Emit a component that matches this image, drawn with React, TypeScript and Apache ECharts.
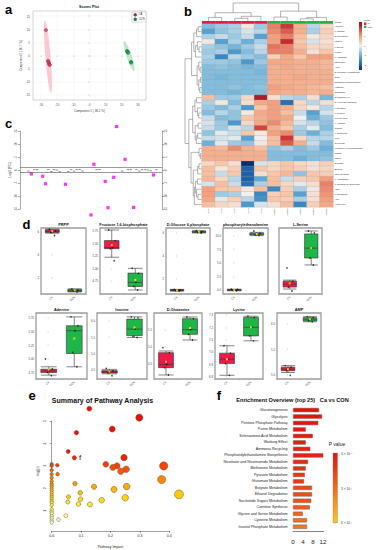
import React, { useEffect, useRef } from 'react';
import * as echarts from 'echarts';

const FONT = '"Liberation Sans", Arial, Helvetica, sans-serif';

// ---------------- a : scores plot ----------------
const scoreXTicks = [-30, -20, -10, 0, 10, 20, 30];
const scoreYTicks = [-15, -10, -5, 0, 5, 10, 15];
const scoresCA = [[-27.0, 9.7], [-25.7, -2.1], [-25.3, -2.6], [-25.0, -3.3], [-24.6, -3.6]];
const scoresCON = [[23.2, 1.7], [23.6, 1.4], [23.9, 1.0], [25.7, -2.5], [25.9, -2.7]];
const ellipseCA = [[-27.6, 13.5, -23.9, -14.3]];
const ellipseCON = [[21.4, 5.5, 27.6, -5.9]];

// ---------------- b : heatmap ----------------
const samples = ['CA1', 'CA2', 'CA3', 'CA4', 'CA5', 'CON1', 'CON2', 'CON3', 'CON4', 'CON5'];
const sampleGroup = ['CA', 'CA', 'CA', 'CA', 'CA', 'CON', 'CON', 'CON', 'CON', 'CON'];
const metabolites = [
  'Adenine', 'L-Lactate', 'D-Glutamine', 'Inosine', 'L-Serine', 'Lysine', 'L-Aspartate', 'Isoleucine',
  'AMP', 'D-Glucose 6-phosphate', 'CMP', 'phosphorylethanolamine', 'Histidine', 'Glutamine',
  'Glutathione ox', 'N-Acetylglucosamine', 'L-Tyrosine', 'L-Leucine', 'Pyruvic acid', 'L-Arginine',
  'Uridine', 'L-Threonine', 'UTP', 'Glycerate', 'Fructose 1,6-bisphosphate', 'Malate', 'PRPP',
  'Glucose', 'Betaine', 'UDP-Glucose', 'L-Asparagine', '6-Phospho-D-gluconate', 'ADP', 'L-Glutamate',
  'ATP', 'Acetyl-CoA',
];
const zScores = [
  [-0.8, -0.6, -0.5, 0.1, -0.6, 1.3, 1.9, 0.8, -0.4, 0.3],
  [-1.2, -0.7, -0.5, -0.2, -0.4, 1.2, 1.6, 0.8, -0.5, 0.4],
  [-0.5, -0.3, -0.6, -0.3, -1.2, 1.0, 1.3, 0.6, 0.1, 0.3],
  [0.1, -1.2, -0.5, -1.0, -0.5, 1.0, 2.0, 0.5, -0.2, 0.2],
  [-0.5, -0.7, -0.9, -0.6, -0.3, 1.4, 1.3, 0.6, 0.3, 0.3],
  [-0.6, -0.5, -1.3, -0.8, -0.4, 1.3, 1.3, 0.8, 0.2, 0.5],
  [-0.5, -1.5, -0.4, -0.6, -0.8, 0.4, 0.9, 0.5, 1.0, 1.0],
  [-0.6, -0.6, -0.7, -1.3, -0.6, 0.9, 0.9, 0.8, 0.8, 0.7],
  [-0.8, -0.7, -0.8, -0.9, -0.8, 0.8, 0.9, 0.8, 0.8, 0.7],
  [-0.8, -0.8, -0.8, -0.8, -0.9, 0.8, 0.8, 0.8, 0.8, 0.8],
  [-0.8, -0.9, -0.8, -0.8, -0.8, 0.8, 0.8, 0.9, 0.8, 0.8],
  [-0.8, -0.8, -0.8, -0.8, -0.8, 0.8, 0.8, 0.8, 0.8, 0.8],
  [-0.8, -0.8, -0.7, -0.8, -0.7, 1.0, 0.9, 0.8, 0.7, 0.6],
  [-0.8, -0.8, -0.9, -0.8, -0.8, 0.9, 0.8, 0.8, 0.7, 0.8],
  [0.6, -0.6, -0.6, 0.3, 2.2, 0.2, -0.4, -0.5, 0.2, -0.9],
  [-0.5, 0.1, -0.8, 0.2, 0.9, 1.0, -1.8, 0.3, -0.4, 0.2],
  [-0.6, -0.8, -0.5, -1.3, 0.5, 1.0, 0.8, 0.3, 0.1, -0.4],
  [-0.8, -0.4, -0.7, 0.1, 0.9, 1.0, 0.6, -0.3, -1.2, -0.2],
  [-0.3, -0.8, -0.7, 0.5, 0.8, 1.0, 0.9, 0.0, -1.0, -0.6],
  [-0.2, -0.6, -1.3, 0.3, 0.9, 1.2, 0.7, -0.2, -0.4, -0.7],
  [-0.3, -0.6, -0.2, -0.4, 1.8, 0.8, 0.5, -0.5, -0.1, -0.8],
  [-0.7, -0.1, -0.3, 0.5, 0.1, 1.0, 1.2, -0.6, -1.0, -0.5],
  [-0.3, -0.2, -0.1, -1.2, 0.0, 0.6, 1.9, 0.3, -0.4, -0.4],
  [-1.0, -0.1, -0.6, -0.7, 0.1, 0.6, 1.6, 0.8, -0.3, -0.8],
  [0.8, 0.7, 1.2, 0.8, 0.6, -0.7, -0.5, -0.8, -0.6, -1.0],
  [0.8, 0.8, 0.8, 0.8, 0.8, -0.8, -0.8, -0.8, -0.8, -0.8],
  [0.8, 0.8, 0.8, 0.8, 0.8, -0.8, -0.8, -1.0, -0.8, -0.7],
  [0.3, 0.5, 0.2, -2.8, -0.2, 0.3, 0.5, 0.3, 0.2, 0.4],
  [0.6, 0.1, 0.4, -2.0, 0.5, 0.3, 0.5, 0.4, 0.2, 0.3],
  [0.6, -0.3, 0.5, -2.0, 0.2, 0.5, 0.7, -0.7, 0.5, 0.4],
  [0.7, 0.3, -0.4, -2.0, -1.1, 0.6, -0.3, 0.4, 0.5, 1.0],
  [-0.2, 0.6, -0.3, -1.8, -0.5, 0.6, 0.3, -0.1, 0.2, 1.3],
  [1.0, 0.5, 0.5, 0.1, 0.6, -1.5, 0.4, -0.5, 0.1, 1.2],
  [1.0, -0.6, -0.5, 0.0, -1.5, 0.4, 0.5, -1.2, 0.2, 1.1],
  [0.9, -0.1, 0.4, -0.4, -1.4, 0.5, 0.4, -0.5, 0.2, 1.0],
  [0.6, 0.3, 0.2, -1.3, -0.2, 0.2, 0.6, -1.5, 0.4, 0.9],
];
// trees: leaf = index, node = [left, right, height]
const colTree: any = [[[0, 1, 2.0], [[2, 3, 1.5], 4, 2.6], 4.6], [[5, 6, 2.2], [[7, 8, 1.2], 9, 2.0], 5.5], 10];
const rowA: any = [[[[0, 1, 1.2], 2, 1.8], [[3, [4, 5, 0.9], 1.5], 6, 2.2], 2.8], [[7, [8, 9, 0.5], 1.0], [[10, 11, 0.4], [12, 13, 0.6], 1.0], 1.6], 3.6];
const rowB: any = [[[14, 15, 1.8], [16, [17, 18, 1.0], 1.5], 2.4], [[19, 20, 1.2], [[21, 22, 1.4], 23, 1.9], 2.3], 3.2];
const rowC: any = [24, [25, 26, 0.4], 0.9];
const rowD: any = [[[27, 28, 0.9], 29, 1.4], [[[30, 31, 1.5], [32, [33, 34, 1.3], 1.8], 2.2], 35, 2.6], 3.0];
const rowTree: any = [rowA, [rowB, [rowC, rowD, 3.8], 4.6], 6];
const heatLegendTicks = [2, 1, 0, -1, -2];

// ---------------- c : fold change ----------------
const sigIndex = [4, 8, 9, 16, 25, 26, 30, 31, 33, 34, 37, 40, 47];
const sigLog2FC = [-1.5, -2.4, -5.3, -5.5, -17.3, 2.2, -4.4, -14.5, -2.8, 16.7, 4.1, -14.4, -1.9];
const nsIndex = [3, 5, 6, 10, 11, 12, 13, 14, 17, 18, 19, 20, 21, 22, 27, 28, 36, 38, 39, 41, 42, 43, 44, 45, 46, 48];
const nsLog2FC = [-0.4, 0.1, 0.1, 0.2, -0.6, 0.1, 0.0, -0.7, -0.5, 0.1, -0.4, 0.1, 0.2, -0.4, 0.1, 0.2, -0.4, 0.1, 0.1, 0.1, -0.4, 0.1, 0.1, 0.0, -0.3, 0.1];
const fcThreshold = [1, -1];

// ---------------- d : box plots ----------------
const boxNames = ['PRPP', 'Fructose 1,6-bisphosphate', 'D-Glucose 6-phosphate', 'phosphorylethanolamine', 'L-Serine', 'Adenine', 'Inosine', 'D-Glutamine', 'Lysine', 'AMP'];
const boxCA = [
  [5.9, 5.95, 6.05, 6.2, 6.25], [5.22, 5.39, 5.41, 5.55, 5.76], [0.95, 0.98, 1.03, 1.08, 1.1], [-0.15, -0.08, 0, 0.08, 0.15], [4.15, 4.21, 4.3, 4.39, 4.42],
  [4.71, 4.757, 4.786, 4.816, 4.86], [4.36, 4.39, 4.43, 4.46, 4.5], [4.15, 4.37, 4.47, 4.82, 4.87], [6.81, 6.905, 6.94, 6.99, 7.05], [5.045, 5.08, 5.11, 5.15, 5.18],
];
const boxCON = [
  [0.78, 0.82, 0.9, 1.0, 1.05], [4.57, 4.64, 4.72, 4.905, 5.0], [5.98, 6.02, 6.08, 6.13, 6.17], [10.0, 10.15, 10.3, 10.45, 10.6], [4.88, 5.09, 5.39, 5.82, 5.91],
  [4.86, 5.1, 5.51, 5.6, 5.76], [5.49, 5.55, 5.75, 6.06, 6.13], [5.2, 5.37, 5.51, 5.84, 5.89], [7.09, 7.13, 7.2, 7.28, 7.29], [6.03, 6.045, 6.08, 6.11, 6.13],
];
const meanCA = [6.08, 5.46, 1.03, 0, 4.32, 4.81, 4.43, 4.55, 6.94, 5.11];
const meanCON = [0.92, 4.77, 6.08, 10.3, 5.39, 5.37, 5.8, 5.56, 7.2, 6.08];
const pointsCA = [
  [6.25, 6.1, 6.05, 5.95, 5.7], [5.76, 5.55, 5.41, 5.39, 5.15], [1.1, 1.06, 1.03, 0.99, 0.95], [0.15, 0.08, 0, -0.08, -0.15], [4.79, 4.39, 4.3, 4.21, 4.09],
  [5.0, 4.82, 4.79, 4.76, 4.7], [4.53, 4.46, 4.43, 4.39, 4.3], [4.97, 4.82, 4.47, 4.37, 4.15], [7.05, 6.99, 6.94, 6.905, 6.81], [5.18, 5.15, 5.11, 5.08, 4.99],
];
const pointsCON = [
  [1.05, 0.95, 0.9, 0.85, 0.78], [5.0, 4.9, 4.72, 4.64, 4.57], [6.17, 6.12, 6.08, 6.03, 5.98], [10.85, 10.45, 10.3, 10.15, 10.0], [5.91, 5.85, 5.39, 5.09, 4.88],
  [5.76, 5.6, 5.51, 5.12, 4.86], [6.13, 6.1, 5.75, 5.52, 5.49], [5.89, 5.84, 5.51, 5.37, 5.2], [7.29, 7.28, 7.2, 7.13, 7.09], [6.13, 6.11, 6.08, 6.05, 6.03],
];
const boxTicks = [
  [2, 4, 6], [4.75, 5.0, 5.25, 5.5, 5.75], [2, 4, 6], [0, 2.5, 5, 7.5, 10], [],
  [4.75, 5.0, 5.25, 5.5, 5.75], [4.5, 5.0, 5.5, 6.0], [4.5, 5.0, 5.5], [6.8, 6.9, 7.0, 7.1, 7.2, 7.3], [5.0, 5.5, 6.0],
];
const boxTickDecimals = [0, 2, 0, 1, 1, 2, 1, 1, 1, 1];
const boxAxisRange = [
  [0.6, 6.35], [4.49, 5.8], [0.7, 6.41], [-0.74, 11.4], [4.0, 6.0],
  [4.64, 5.83], [4.2, 6.25], [4.03, 6.01], [6.78, 7.316], [4.92, 6.2],
];
const boxGroups = ['CA', 'CON'];

// ---------------- e : pathway summary ----------------
const pathwayImpact = [0.128, 0.298, 0.206, 0.084, 0.056, 0.077, 0.246, 0.184, 0.222, 0.208, 0.253, 0.235, 0.381, 0.374, 0.079, 0.144, 0.255, 0.212, 0.433, 0.097, 0.057, 0.098, 0.17, 0.25, 0.055, 0.091, 0.13, 0.048, 0.023, 0.019, 0.02,
  0, 0, 0, 0, 0, 0, 0, 0, 0, 0, 0, 0, 0, 0, 0, 0, 0, 0, 0, 0, 0, 0, 0, 0, 0];
const pathwayLogP = [5.55, 5.15, 4.64, 4.48, 3.64, 3.36, 3.37, 3.07, 3.0, 2.93, 2.85, 2.76, 3.0, 2.39, 2.21, 2.07, 2.08, 1.95, 1.73, 1.8, 1.62, 1.52, 1.47, 1.58, 1.39, 1.3, 1.28, 0.78, 0.61, 3.03, 2.63,
  3.07, 3.0, 2.81, 2.63, 2.47, 2.32, 2.21, 2.15, 2.07, 1.98, 1.89, 1.8, 1.7, 1.62, 1.53, 1.43, 1.36, 1.25, 1.06, 0.96, 0.88, 0.76, 0.67, 0.56, 0.48];
const pathwayYTicks = [1, 2, 3, 4, 5];

// ---------------- f : enrichment overview ----------------
const enrichNames = ['Gluconeogenesis', 'Glycolysis', 'Pentose Phosphate Pathway', 'Purine Metabolism', 'Selenoamino Acid Metabolism', 'Warburg Effect',
  'Ammonia Recycling', 'Phosphatidylethanolamine Biosynthesis', 'Nicotinate and Nicotinamide Metabolism', 'Methionine Metabolism', 'Pyruvate Metabolism',
  'Glutamate Metabolism', 'Butyrate Metabolism', 'Ethanol Degradation', 'Nucleotide Sugars Metabolism', 'Carnitine Synthesis', 'Glycine and Serine Metabolism',
  'Cysteine Metabolism', 'Inositol Phosphate Metabolism'];
const enrichRatio = [10.4, 11.6, 10.1, 5.1, 7.9, 5.1, 6.9, 12.1, 6.0, 5.1, 4.7, 4.4, 7.6, 7.6, 7.3, 6.7, 3.9, 5.6, 5.6];
const enrichP = [0.0004, 0.0004, 0.0005, 0.0006, 0.0007, 0.0008, 0.0009, 0.0009, 0.0012, 0.0014, 0.0016, 0.0017, 0.0022, 0.0023, 0.0025, 0.0027, 0.003, 0.0033, 0.0036];
const enrichTicks = [0, 2, 4, 6, 8, 10, 12];
const enrichLabels = [0, 4, 8, 12];
const pLegendLabels = ['4 × 10⁻⁴', '3 × 10⁻³', '6 × 10⁻³'];

// ---------------- layout / style constants ----------------
const RED = '#EC1A4B';
const GREEN = '#1FB548';
const groupColors: any = { CA: RED, CON: GREEN };
const heatColors = ['#0B2F6B', '#1E5FA5', '#3A88C2', '#6AB0D8', '#A9D0E6', '#F2F0EE', '#F9C6A8', '#F3A07E', '#E06A55', '#C42A2E', '#8B0A22'];
const boxRects = [[41, 228, 45, 66], [100, 228, 47, 66], [166, 228, 44, 66], [223, 228, 45, 66], [279, 228, 43, 66],
  [36, 313, 51, 66], [97, 313, 50, 66], [154, 313, 48, 66], [215, 313, 48, 66], [277, 313, 44, 66]];
const jitter = [-0.13, 0.14, 0.03, -0.06, 0.1];

function flattenTree(tree: any, links: number[][]): { pos: number; h: number } {
  if (typeof tree === 'number') return { pos: tree, h: 0 };
  const a = flattenTree(tree[0], links);
  const b = flattenTree(tree[1], links);
  links.push([a.pos, a.h, b.pos, b.h, tree[2]]);
  return { pos: (a.pos + b.pos) / 2, h: tree[2] };
}

function ellipseRender(fill: string, half: number) {
  return (_p: any, api: any) => {
    const p1 = api.coord([api.value(0), api.value(1)]);
    const p2 = api.coord([api.value(2), api.value(3)]);
    const cx = (p1[0] + p2[0]) / 2, cy = (p1[1] + p2[1]) / 2;
    const dx = (p2[0] - p1[0]) / 2, dy = (p2[1] - p1[1]) / 2;
    const len = Math.hypot(dx, dy) || 1;
    const nx = (-dy / len) * half, ny = (dx / len) * half;
    const pts: number[][] = [];
    for (let i = 0; i < 60; i++) {
      const t = (i / 60) * Math.PI * 2;
      pts.push([cx + dx * Math.cos(t) + nx * Math.sin(t), cy + dy * Math.cos(t) + ny * Math.sin(t)]);
    }
    return { type: 'polygon', shape: { points: pts }, style: { fill, stroke: 'none' } };
  };
}

function dendroRender(vertical: boolean) {
  return (_p: any, api: any) => {
    const x1 = api.value(0), h1 = api.value(1), x2 = api.value(2), h2 = api.value(3), h = api.value(4);
    const pts = vertical
      ? [api.coord([x1, h1]), api.coord([x1, h]), api.coord([x2, h]), api.coord([x2, h2])]
      : [api.coord([h1, x1]), api.coord([h, x1]), api.coord([h, x2]), api.coord([h2, x2])];
    return { type: 'polyline', shape: { points: pts }, style: { stroke: '#666', lineWidth: 0.5, fill: 'none' } };
  };
}

function buildOption() {
  const grid: any[] = [], xAxis: any[] = [], yAxis: any[] = [], series: any[] = [], graphic: any[] = [], visualMap: any[] = [];
  const gi = (g: any) => { grid.push(g); return grid.length - 1; };
  const xi = (a: any) => { xAxis.push(a); return xAxis.length - 1; };
  const yi = (a: any) => { yAxis.push(a); return yAxis.length - 1; };
  const si = (s: any) => { series.push(s); return series.length - 1; };
  const text = (x: number, y: number, t: string, size: number, extra: any = {}) => {
    graphic.push({
      type: 'text', x, y, silent: true,
      style: { text: t, fontSize: size, fontFamily: FONT, fill: '#111', textAlign: 'center', align: 'center', textVerticalAlign: 'middle', verticalAlign: 'middle', ...extra },
    });
  };
  const hidden = { show: false };

  // ===== a =====
  const gA = gi({ left: 33, top: 11, width: 113, height: 89, show: true, borderColor: '#b8b8b8', borderWidth: 0.6, backgroundColor: '#fff' });
  const xA = xi({
    type: 'value', gridIndex: gA, min: -35, max: 35, axisLine: { show: false },
    axisTick: { customValues: scoreXTicks, length: 1.5, lineStyle: { color: '#999', width: 0.4 } },
    axisLabel: { customValues: scoreXTicks, fontSize: 3, color: '#555', margin: 3 },
    splitLine: { show: true, lineStyle: { color: '#eeeeee', width: 0.4 } },
    name: 'Component 1 ( 48.2 %)', nameLocation: 'middle', nameGap: 9, nameTextStyle: { fontSize: 3, color: '#444' },
  });
  const yA = yi({
    type: 'value', gridIndex: gA, min: -17, max: 17, axisLine: { show: false },
    axisTick: { customValues: scoreYTicks, length: 1.5, lineStyle: { color: '#999', width: 0.4 } },
    axisLabel: { customValues: scoreYTicks, fontSize: 3, color: '#555', margin: 3 },
    splitLine: { show: true, lineStyle: { color: '#eeeeee', width: 0.4 } },
    name: 'Component 2 ( 10.7 %)', nameLocation: 'middle', nameGap: 10, nameTextStyle: { fontSize: 3, color: '#444' },
  });
  si({ type: 'custom', xAxisIndex: xA, yAxisIndex: yA, data: ellipseCA, renderItem: ellipseRender('rgba(250,130,160,0.45)', 2.6), clip: false, silent: true, z: 1, encode: { x: [0, 2], y: [1, 3] } });
  si({ type: 'custom', xAxisIndex: xA, yAxisIndex: yA, data: ellipseCON, renderItem: ellipseRender('rgba(110,205,140,0.45)', 2.6), clip: false, silent: true, z: 1, encode: { x: [0, 2], y: [1, 3] } });
  si({ type: 'scatter', name: 'CA', xAxisIndex: xA, yAxisIndex: yA, data: scoresCA, symbolSize: 3.4, itemStyle: { color: '#D63863', borderColor: '#8a1030', borderWidth: 0.4 }, z: 3 });
  si({ type: 'scatter', name: 'CON', xAxisIndex: xA, yAxisIndex: yA, data: scoresCON, symbolSize: 3.4, itemStyle: { color: '#1F9A55', borderColor: '#0c5a2c', borderWidth: 0.4 }, z: 3 });
  text(89, 6.5, 'Scores Plot', 3.6, { fontWeight: 'bold' });

  // ===== b =====
  const gH = gi({ left: 202, top: 24, width: 131, height: 183 });
  const xH = xi({ type: 'category', gridIndex: gH, data: samples, axisLine: { show: false }, axisTick: { show: false }, axisLabel: { interval: 0, rotate: 90, fontSize: 2.4, color: '#333', margin: 1.5 } });
  const yH = yi({ type: 'category', gridIndex: gH, data: metabolites, inverse: true, position: 'right', axisLine: { show: false }, axisTick: { show: false }, axisLabel: { interval: 0, fontSize: 2.4, color: '#222', margin: 1.5 } });
  const heatData: number[][] = [];
  zScores.forEach((row, r) => row.forEach((v, c) => heatData.push([c, r, v])));
  const heatIdx = si({ type: 'heatmap', xAxisIndex: xH, yAxisIndex: yH, data: heatData, itemStyle: { borderColor: '#a0a0a0', borderWidth: 0.25 } });

  const gAnn = gi({ left: 202, top: 21, width: 131, height: 2.8 });
  const xAnn = xi({ type: 'category', gridIndex: gAnn, data: samples, ...hidden });
  const yAnn = yi({ type: 'value', gridIndex: gAnn, min: 0, max: 1, ...hidden });
  si({ type: 'bar', xAxisIndex: xAnn, yAxisIndex: yAnn, barWidth: '100%', data: sampleGroup.map((g) => ({ value: 1, itemStyle: { color: groupColors[g] } })) });

  const colLinks: number[][] = [];
  flattenTree(colTree, colLinks);
  const gCD = gi({ left: 202, top: 3, width: 131, height: 18 });
  const xCD = xi({ type: 'value', gridIndex: gCD, min: -0.5, max: samples.length - 0.5, ...hidden });
  const yCD = yi({ type: 'value', gridIndex: gCD, min: 0, max: colTree[2], ...hidden });
  si({ type: 'custom', xAxisIndex: xCD, yAxisIndex: yCD, data: colLinks, renderItem: dendroRender(true), clip: false, silent: true, encode: { x: [0, 2], y: [1, 3, 4] } });

  const rowLinks: number[][] = [];
  flattenTree(rowTree, rowLinks);
  const gRD = gi({ left: 185, top: 24, width: 16.5, height: 183 });
  const xRD = xi({ type: 'value', gridIndex: gRD, min: 0, max: rowTree[2], inverse: true, ...hidden });
  const yRD = yi({ type: 'value', gridIndex: gRD, min: -0.5, max: metabolites.length - 0.5, inverse: true, ...hidden });
  si({ type: 'custom', xAxisIndex: xRD, yAxisIndex: yRD, data: rowLinks, renderItem: dendroRender(false), clip: false, silent: true, encode: { x: [1, 3, 4], y: [0, 2] } });

  visualMap.push({ type: 'continuous', show: false, seriesIndex: heatIdx, dimension: 2, min: -2.5, max: 2.5, inRange: { color: heatColors } });
  // heat legend
  graphic.push({
    type: 'rect', x: 359, y: 22, shape: { width: 3, height: 48 }, silent: true,
    style: { fill: new echarts.graphic.LinearGradient(0, 0, 0, 1, heatColors.slice().reverse().map((c, i, arr) => ({ offset: i / (arr.length - 1), color: c }))) },
  });
  heatLegendTicks.forEach((v) => text(364, 22 + ((2.5 - v) / 5) * 48, String(v), 2.4, { textAlign: 'left', align: 'left', fill: '#333' }));
  text(364, 20, 'Class', 2.4, { textAlign: 'left', align: 'left', fill: '#333' });
  graphic.push({ type: 'rect', x: 364, y: 22.5, shape: { width: 2.4, height: 2.4 }, style: { fill: RED }, silent: true });
  graphic.push({ type: 'rect', x: 364, y: 25.6, shape: { width: 2.4, height: 2.4 }, style: { fill: GREEN }, silent: true });
  text(367.5, 23.7, 'CA', 2.2, { textAlign: 'left', align: 'left', fill: '#333' });
  text(367.5, 26.8, 'CON', 2.2, { textAlign: 'left', align: 'left', fill: '#333' });
  text(335, 22.4, 'Class', 2.4, { textAlign: 'left', align: 'left', fill: '#333' });

  // ===== c =====
  const gC = gi({ left: 20, top: 131, width: 142, height: 78 });
  const xC = xi({ type: 'value', gridIndex: gC, min: 0, max: 50, ...hidden });
  const cAxis = (pos: string, named: boolean) => ({
    type: 'value', gridIndex: gC, min: -15, max: 15, interval: 5, position: pos,
    axisLine: { show: true, lineStyle: { color: '#555', width: 0.5 } },
    axisTick: { show: true, length: 2, lineStyle: { color: '#555', width: 0.5 } },
    axisLabel: { fontSize: 3, color: '#444', rotate: 90, margin: 2.5 },
    splitLine: { show: false },
    ...(named ? { name: 'Log2 (FC)', nameLocation: 'middle', nameGap: 8, nameTextStyle: { fontSize: 3.5, color: '#333' } } : {}),
  });
  const yC = yi(cAxis('left', true));
  yi(cAxis('right', false));
  si({
    type: 'scatter', xAxisIndex: xC, yAxisIndex: yC, data: nsIndex.map((x, i) => [x, nsLog2FC[i]]), symbol: 'rect', symbolSize: [2.4, 0.7],
    itemStyle: { color: '#333' }, clip: false,
    markLine: { silent: true, symbol: 'none', label: { show: false }, lineStyle: { color: '#555', width: 0.6, type: 'solid' }, data: fcThreshold.map((v) => ({ yAxis: v })) },
  });
  si({ type: 'scatter', xAxisIndex: xC, yAxisIndex: yC, data: sigIndex.map((x, i) => [x, sigLog2FC[i]]), symbol: 'rect', symbolSize: 3.2, itemStyle: { color: '#FF00FF' }, clip: false });

  // ===== d =====
  boxNames.forEach((name, k) => {
    const [l, t, w, h] = boxRects[k];
    const g = gi({ left: l, top: t, width: w, height: h, show: true, borderColor: '#9c9c9c', borderWidth: 1.3, backgroundColor: '#fff' });
    const xc = xi({ type: 'category', gridIndex: g, data: boxGroups, axisLine: { show: false }, axisTick: { show: true, length: 1.2, lineStyle: { color: '#888', width: 0.4 } }, axisLabel: { interval: 0, rotate: 45, fontSize: 2.8, color: '#444', margin: 2.5 }, splitLine: { show: false } });
    const xv = xi({ type: 'value', gridIndex: g, min: -0.5, max: 1.5, ...hidden });
    const ticks = boxTicks[k];
    const yv = yi({
      type: 'value', gridIndex: g, min: boxAxisRange[k][0], max: boxAxisRange[k][1], axisLine: { show: false },
      axisTick: { show: ticks.length > 0, customValues: ticks, length: 1.2, lineStyle: { color: '#888', width: 0.4 } },
      axisLabel: { show: ticks.length > 0, customValues: ticks, fontSize: 2.8, color: '#444', margin: 2, formatter: (v: number) => v.toFixed(boxTickDecimals[k]) },
      splitLine: { show: false },
    });
    si({
      type: 'boxplot', xAxisIndex: xc, yAxisIndex: yv, boxWidth: ['62%', '62%'],
      itemStyle: { borderColor: '#333', borderWidth: 0.6 },
      data: [{ value: boxCA[k], itemStyle: { color: RED } }, { value: boxCON[k], itemStyle: { color: GREEN } }],
    });
    const pts: number[][] = [];
    pointsCA[k].forEach((v, i) => pts.push([0 + jitter[i], v]));
    pointsCON[k].forEach((v, i) => pts.push([1 + jitter[i], v]));
    si({ type: 'scatter', xAxisIndex: xv, yAxisIndex: yv, data: pts, symbolSize: 1.6, itemStyle: { color: '#111' }, clip: false, z: 4 });
    si({ type: 'scatter', xAxisIndex: xv, yAxisIndex: yv, data: [[0, meanCA[k]], [1, meanCON[k]]], symbol: 'rect', symbolSize: 2, itemStyle: { color: '#FFF200' }, clip: false, z: 5 });
    text(l + w / 2, t - 3, name, 3.8, { fontWeight: 'bold' });
  });

  // ===== e =====
  const gE = gi({ left: 51.7, top: 421, width: 117.6, height: 101.25 });
  const xE = xi({
    type: 'value', gridIndex: gE, min: 0, max: 0.4, interval: 0.1, offset: 9,
    axisLine: { show: true, lineStyle: { color: '#444', width: 0.5 } }, axisTick: { length: 2, lineStyle: { color: '#444', width: 0.5 } },
    axisLabel: { fontSize: 3.5, color: '#222', margin: 3, formatter: (v: number) => v.toFixed(1) }, splitLine: { show: false },
    name: 'Pathway Impact', nameLocation: 'middle', nameGap: 14, nameTextStyle: { fontSize: 3.6, color: '#222' },
  });
  const yE = yi({
    type: 'value', gridIndex: gE, min: 0.5, max: 5, offset: 2,
    axisLine: { show: true, lineStyle: { color: '#444', width: 0.5 } },
    axisTick: { customValues: pathwayYTicks, length: 2, lineStyle: { color: '#444', width: 0.5 } },
    axisLabel: { customValues: pathwayYTicks, fontSize: 3.5, color: '#222', rotate: 90, margin: 3 }, splitLine: { show: false },
    name: '-log(p)', nameLocation: 'middle', nameGap: 10, nameTextStyle: { fontSize: 3.6, color: '#222' },
  });
  const eIdx = si({
    type: 'scatter', xAxisIndex: xE, yAxisIndex: yE, data: pathwayImpact.map((x, i) => [x, pathwayLogP[i]]),
    symbolSize: (v: number[]) => 3.4 + v[0] * 12.5, itemStyle: { borderColor: '#555', borderWidth: 0.5, opacity: 1 }, clip: false,
  });
  visualMap.push({ type: 'continuous', show: false, seriesIndex: eIdx, dimension: 1, min: 0.5, max: 4, inRange: { color: ['#FFFFC0', '#FFFF40', '#FFD000', '#FF9800', '#FF5000', '#F51A00', '#EE0F00'] } });
  text(102.5, 400, 'Summary of Pathway Analysis', 7, { fontWeight: 'bold', fill: '#111' });
  text(80, 457, 'f', 8, { fill: '#222' });

  // ===== f =====
  const gF = gi({ left: 293, top: 406.8, width: 30.5, height: 123.2 });
  const xF = xi({
    type: 'value', gridIndex: gF, min: 0, max: 12.2, offset: 1.2,
    axisLine: { show: true, lineStyle: { color: '#333', width: 0.6 } },
    axisTick: { customValues: enrichTicks, length: 2.5, lineStyle: { color: '#333', width: 0.6 } },
    axisLabel: { customValues: enrichLabels, fontSize: 6.2, color: '#222', margin: 7 }, splitLine: { show: false },
  });
  const yF = yi({ type: 'category', gridIndex: gF, data: enrichNames, inverse: true, axisLine: { show: false }, axisTick: { show: false }, axisLabel: { interval: 0, fontSize: 3.6, color: '#222', margin: 5.5 } });
  const fIdx = si({
    type: 'bar', xAxisIndex: xF, yAxisIndex: yF, barWidth: 4.3, data: enrichRatio.map((v, i) => [v, i, enrichP[i]]), encode: { x: 0, y: 1 },
    itemStyle: { borderColor: '#6a6a6a', borderWidth: 0.5 },
  });
  const pColors = ['#E8120B', '#EE3A0E', '#F46A16', '#F99A1E', '#FFC424'];
  visualMap.push({ type: 'continuous', show: false, seriesIndex: fIdx, dimension: 2, min: 0.0004, max: 0.006, inRange: { color: pColors } });
  text(292.5, 399.5, 'Enrichment Overview (top 25)   Ca vs CON', 5.6, { fontWeight: 'bold', fill: '#111' });
  text(337, 443.5, 'P value', 5, { fill: '#222' });
  graphic.push({
    type: 'rect', x: 333, y: 453, shape: { width: 4.5, height: 70 }, silent: true,
    style: { stroke: '#777', lineWidth: 0.3, fill: new echarts.graphic.LinearGradient(0, 0, 0, 1, pColors.map((c, i) => ({ offset: i / (pColors.length - 1), color: c }))) },
  });
  pLegendLabels.forEach((s, i) => text(341, 454 + i * 34.5, s, 3.2, { textAlign: 'left', align: 'left', fill: '#333' }));

  // panel letters
  [['a', 8.5, 9], ['b', 188, 11], ['c', 8.5, 123.5], ['d', 26.5, 224], ['e', 32, 395.5], ['f', 219, 395]].forEach(([t, x, y]: any) =>
    text(x, y, t, 13, { fontWeight: 'bold', fill: '#000' }));

  return {
    animation: false,
    backgroundColor: '#fff',
    textStyle: { fontFamily: FONT },
    legend: {
      data: ['CA', 'CON'], right: 233, top: 12, orient: 'vertical', itemWidth: 3, itemHeight: 1.6, itemGap: 0.8,
      padding: [1, 1.5], textStyle: { fontSize: 2.6, color: '#333', padding: [0, 0, 0, -3] }, borderColor: '#aaa', borderWidth: 0.4,
      backgroundColor: '#fff', selectedMode: false,
    },
    grid, xAxis, yAxis, series, visualMap, graphic,
  };
}

export default function App() {
  const ref = useRef<HTMLDivElement>(null);
  useEffect(() => {
    if (!ref.current) return;
    const chart = echarts.init(ref.current, undefined, { renderer: 'svg' });
    chart.setOption(buildOption() as any);
    return () => chart.dispose();
  }, []);
  return <div ref={ref} style={{ position: 'fixed', left: 0, top: 0, width: 379, height: 550, background: '#fff' }} />;
}
